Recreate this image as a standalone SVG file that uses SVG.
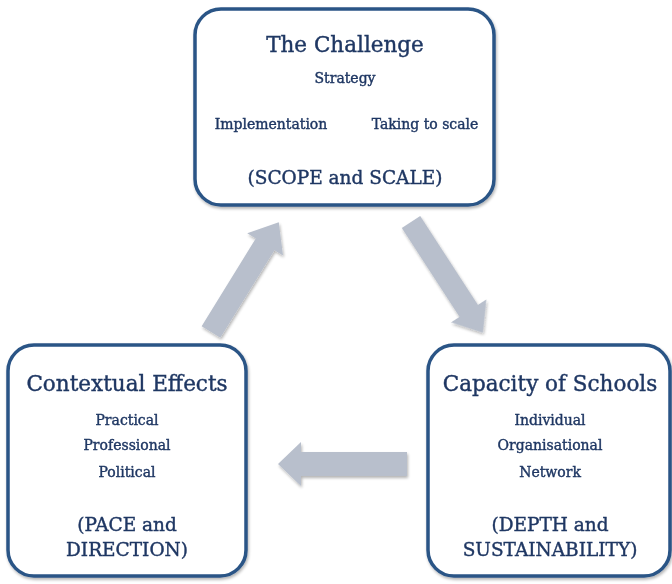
<svg xmlns="http://www.w3.org/2000/svg" width="672" height="584" viewBox="0 0 672 584">
<style>
.box{fill:#ffffff;stroke:#2b5486;stroke-width:3.5}
.t{font-family:"DejaVu Serif",serif;fill:#1f3763;stroke:#1f3763;stroke-width:0.4;text-anchor:middle}
.h{font-size:21.5px}
.s{font-size:14px}
.p{font-size:18.5px}
.arr{fill:#b8bfcc}
</style>
<defs>
<filter id="sh" x="-10%" y="-10%" width="120%" height="120%">
<feGaussianBlur in="SourceAlpha" stdDeviation="1.5"/>
<feOffset dx="1" dy="2" result="b"/>
<feComponentTransfer><feFuncA type="linear" slope="0.3"/></feComponentTransfer>
<feMerge><feMergeNode/><feMergeNode in="SourceGraphic"/></feMerge>
</filter>
</defs>
<rect width="672" height="584" fill="#ffffff"/>
<g id="connectors" filter="url(#sh)">
<polygon class="arr" transform="translate(211,332) rotate(-58.3)" points="0,-11 103,-11 103,-21 129,0 103,21 103,11 0,11"/>
<polygon class="arr" transform="translate(411,222) rotate(57)" points="0,-11 106,-11 106,-21 132,0 106,21 106,11 0,11"/>
<polygon class="arr" points="407,452 301,452 301,442 278,464 301,486 301,476 407,476"/>
</g>
<g id="challenge">
<rect class="box" x="195" y="9" width="299" height="196" rx="26" filter="url(#sh)"/>
<text class="t h" x="345" y="52">The Challenge</text>
<text class="t s" x="345" y="83">Strategy</text>
<text class="t s" x="271" y="129">Implementation</text>
<text class="t s" x="425" y="129">Taking to scale</text>
<text class="t p" x="345" y="184">(SCOPE and SCALE)</text>
</g>
<g id="contextual">
<rect class="box" x="8" y="345" width="238" height="231" rx="26" filter="url(#sh)"/>
<text class="t h" x="127" y="391">Contextual Effects</text>
<text class="t s" x="127" y="425">Practical</text>
<text class="t s" x="127" y="450">Professional</text>
<text class="t s" x="127" y="477">Political</text>
<text class="t p" x="127" y="531">(PACE and</text>
<text class="t p" x="127" y="556">DIRECTION)</text>
</g>
<g id="capacity">
<rect class="box" x="428" y="345" width="242" height="231" rx="26" filter="url(#sh)"/>
<text class="t h" x="550" y="391">Capacity of Schools</text>
<text class="t s" x="550" y="425">Individual</text>
<text class="t s" x="550" y="450">Organisational</text>
<text class="t s" x="550" y="477">Network</text>
<text class="t p" x="550" y="531">(DEPTH and</text>
<text class="t p" x="550" y="556">SUSTAINABILITY)</text>
</g>
</svg>
